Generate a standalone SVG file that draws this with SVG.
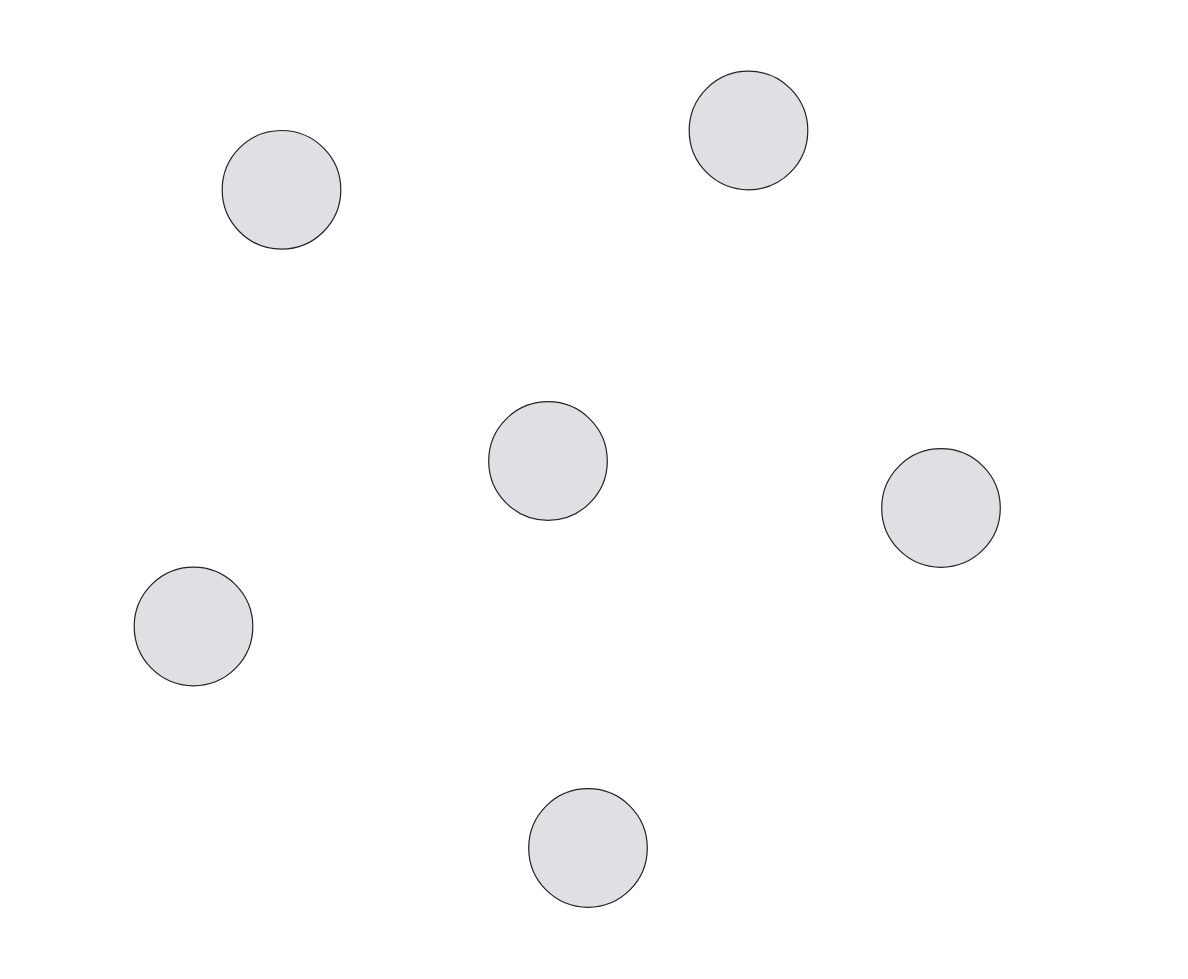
<svg xmlns="http://www.w3.org/2000/svg" width="1188" height="979" viewBox="0 0 1188 979">
<style>
.node{fill:#dfdfe4;stroke:#222;stroke-width:1.2}
</style>
<rect width="1188" height="979" fill="#fff"/>
<g id="connectors"></g>
<g id="n1"><circle class="node" cx="281.5" cy="189.8" r="59.3"/></g>
<g id="n2"><circle class="node" cx="748.5" cy="130.5" r="59.3"/></g>
<g id="n3"><circle class="node" cx="548" cy="461" r="59.3"/></g>
<g id="n4"><circle class="node" cx="941" cy="508" r="59.3"/></g>
<g id="n5"><circle class="node" cx="193.5" cy="626.5" r="59.3"/></g>
<g id="n6"><circle class="node" cx="588" cy="848" r="59.3"/></g>
</svg>
